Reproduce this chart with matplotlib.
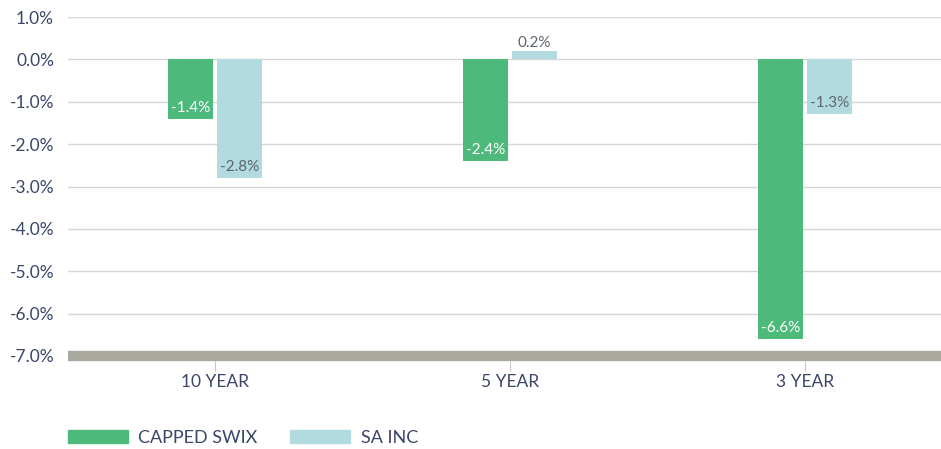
import matplotlib
matplotlib.use("Agg")
import matplotlib.pyplot as plt
from matplotlib.patches import Patch
import matplotlib.transforms as mtrans
import numpy as np

categories = ["10 YEAR", "5 YEAR", "3 YEAR"]
series_names = ["CAPPED SWIX", "SA INC"]
capped_swix = [-1.4, -2.4, -6.6]
sa_inc = [-2.8, 0.2, -1.3]
yticks = [1.0, 0.0, -1.0, -2.0, -3.0, -4.0, -5.0, -6.0, -7.0]

GREEN = "#4db97b"
BLUE = "#b2dbe0"
TICK_COLOR = "#3b4668"
GRID = "#d6d6d6"
BASE = "#a9a9a0"

plt.rcParams['font.family'] = ['Lato', 'DejaVu Sans']

fig = plt.figure(figsize=(9.41, 4.49), dpi=100)
ax = fig.add_axes([68/941, 1-356/449, 1-68/941, (356-17)/449])

x = np.arange(len(categories))
w = 0.152
off = 0.083
b1 = ax.bar(x - off, capped_swix, w, color=GREEN, zorder=3)
b2 = ax.bar(x + off, sa_inc, w, color=BLUE, zorder=3)

ax.set_xlim(-0.498, 2.46)
ax.set_ylim(-7.0, 1.0)
ax.set_yticks(yticks)
ax.set_yticklabels([f"{v:.1f}%" for v in yticks])
ax.set_xticks(x)
ax.set_xticklabels(categories)

for v in yticks[:-1]:
    ax.axhline(v, color=GRID, lw=1.0, zorder=1)
ax.axhline(-7.0, color=BASE, lw=7.5, zorder=4, clip_on=False, solid_capstyle='butt')

for s in ax.spines.values():
    s.set_visible(False)

ax.tick_params(axis='y', length=0, pad=10, labelsize=12.5, labelcolor=TICK_COLOR)
ax.tick_params(axis='x', length=7, width=0.8, color="#c8c8c8", pad=6,
               labelsize=12.5, labelcolor=TICK_COLOR)
for t in ax.xaxis.get_major_ticks():
    t.tick1line.set_transform(t.tick1line.get_transform() +
                              mtrans.ScaledTranslation(0, -5/100, fig.dpi_scale_trans))

def label(bars, vals, color):
    for r, v in zip(bars, vals):
        cx = r.get_x() + r.get_width()/2
        if v < 0:
            ax.annotate(f"{v:.1f}%", (cx, v), xytext=(0, 3), textcoords="offset points",
                        ha="center", va="bottom", fontsize=11, color=color, zorder=5)
        else:
            ax.annotate(f"{v:.1f}%", (cx, v), xytext=(0, 1), textcoords="offset points",
                        ha="center", va="bottom", fontsize=11, color="#5d6570", zorder=5)

label(b1, capped_swix, "white")
label(b2, sa_inc, "#5d6570")

handles = [Patch(color=GREEN), Patch(color=BLUE)]
fig.legend(handles, series_names, loc="center left",
           bbox_to_anchor=(68/941, 1-438/449), ncol=2, frameon=False,
           handlelength=3.3, handleheight=0.7, handletextpad=0.6,
           columnspacing=1.8, borderpad=0, borderaxespad=0,
           prop={'size': 13}, labelcolor=TICK_COLOR)

fig.savefig("out.png", dpi=100)
